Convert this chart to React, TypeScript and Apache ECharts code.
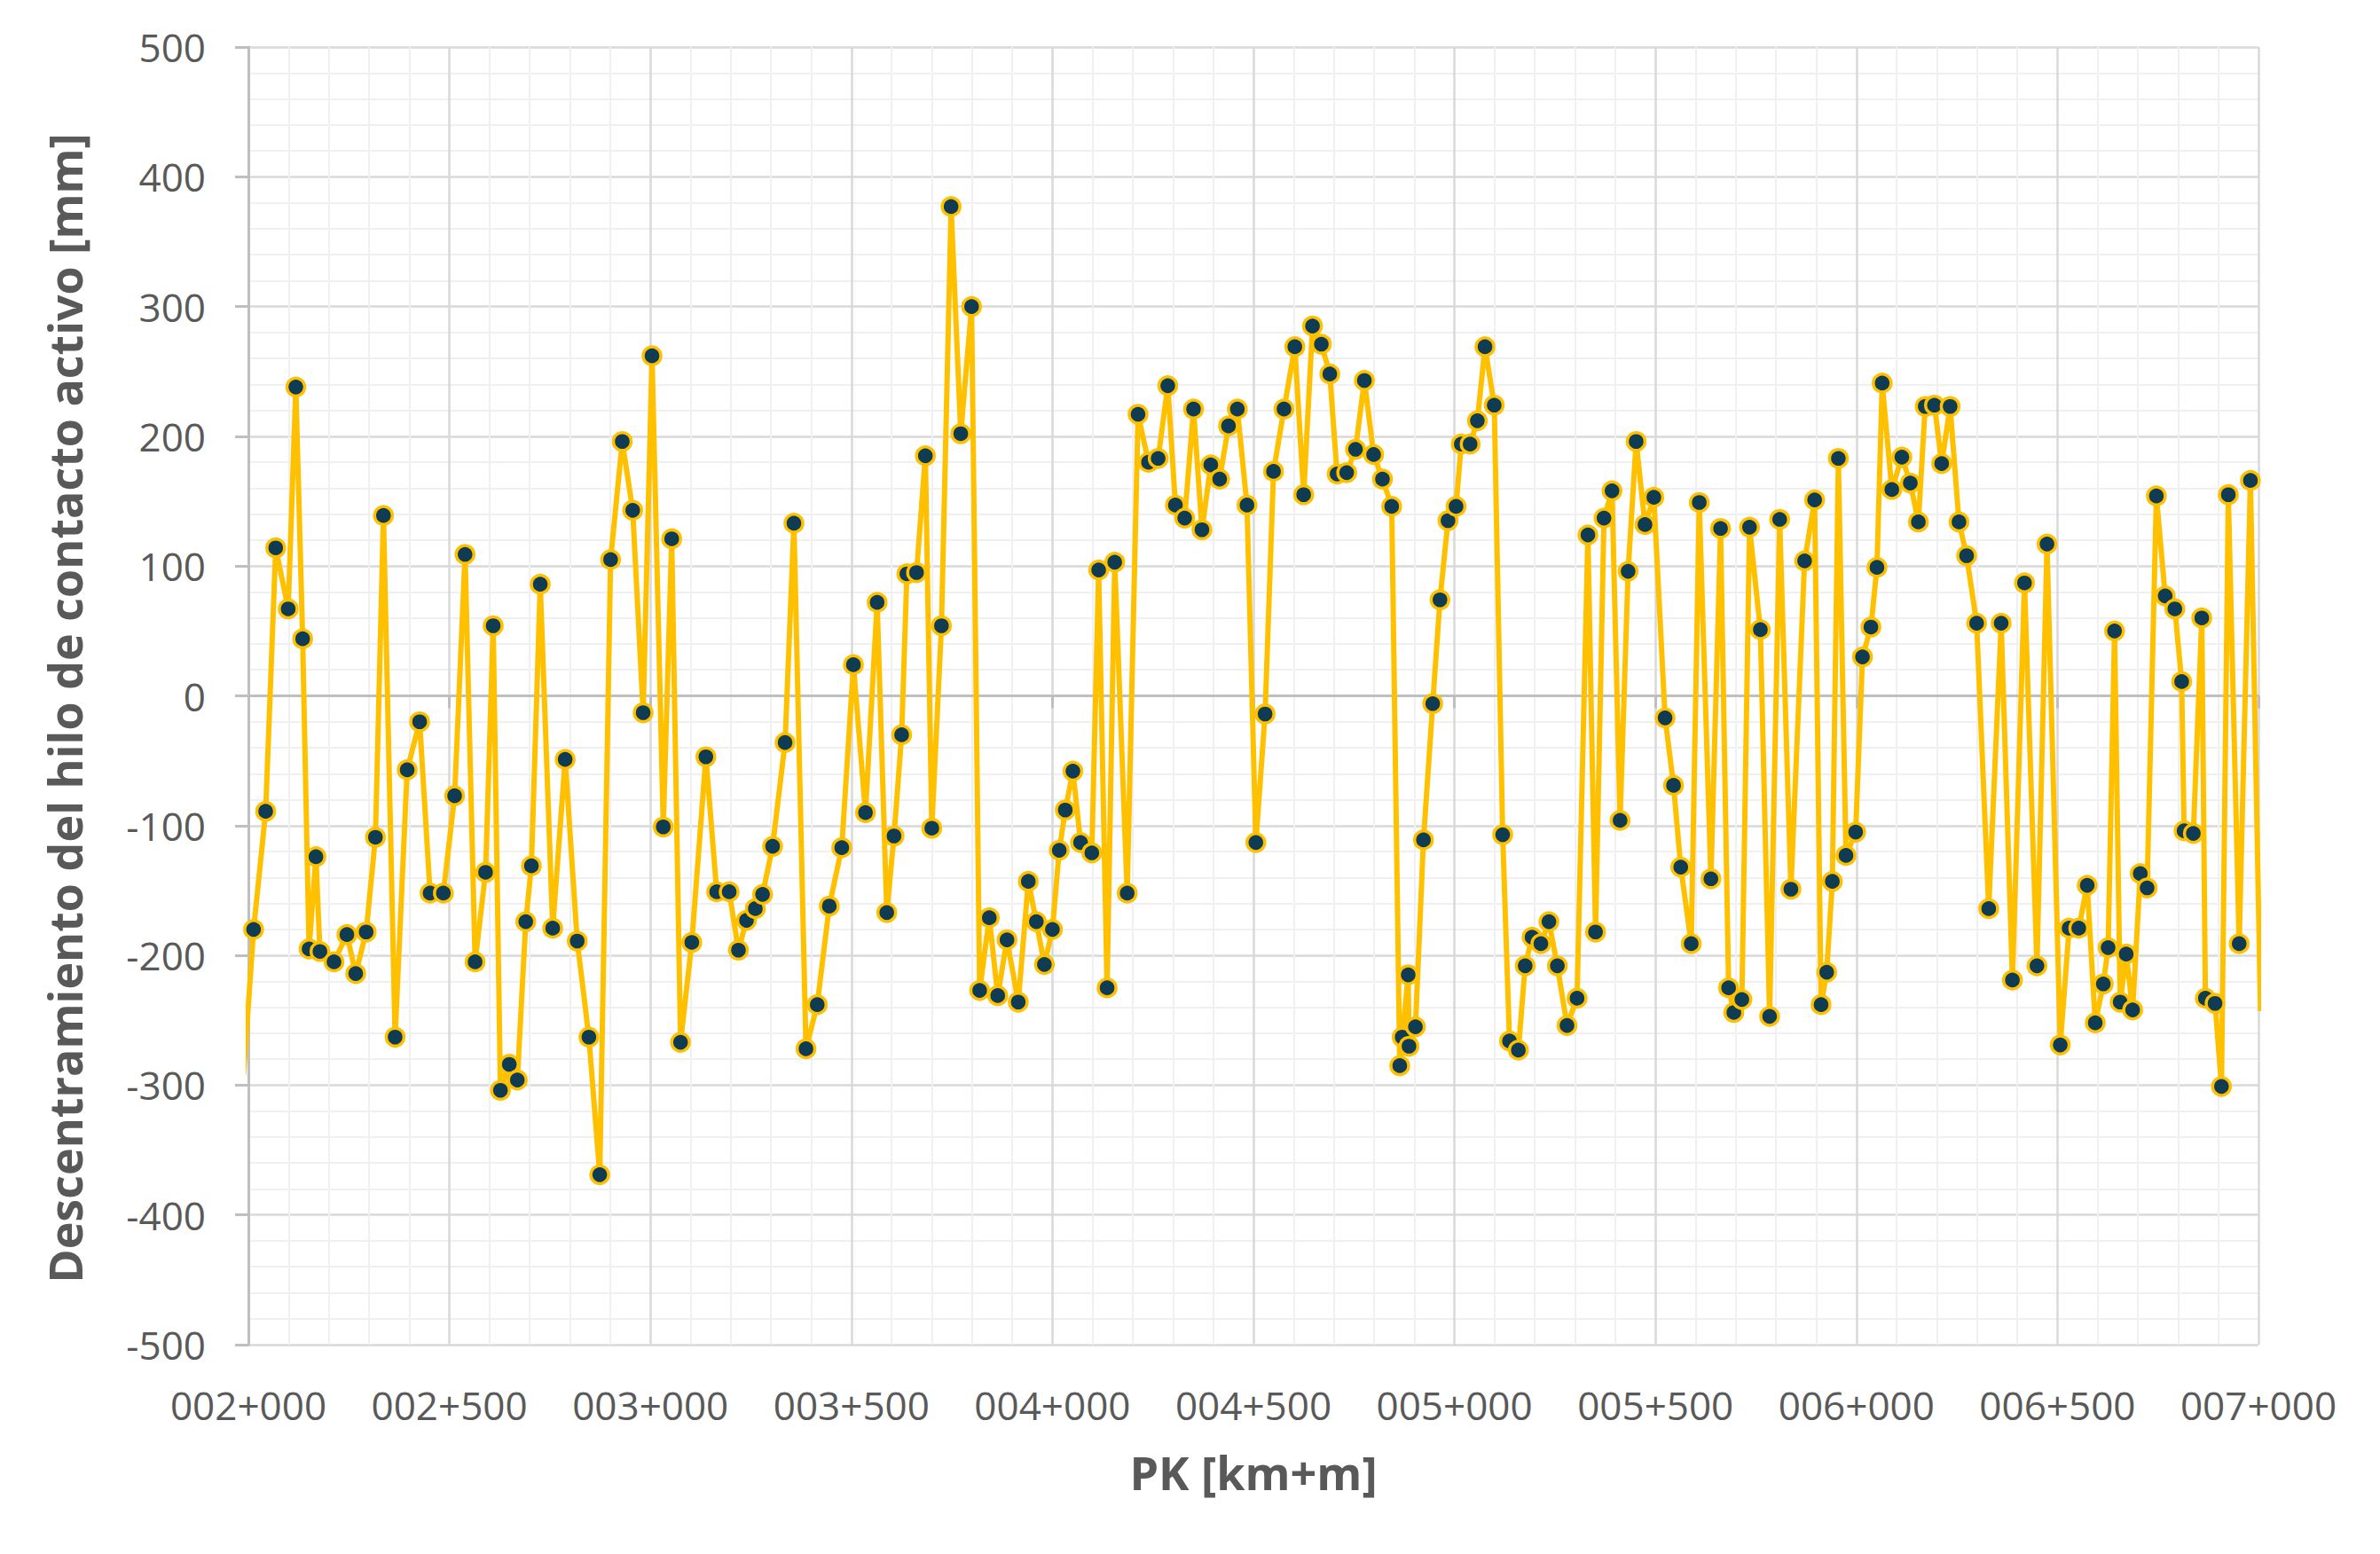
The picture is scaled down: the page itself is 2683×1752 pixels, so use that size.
import React, { useEffect, useRef } from "react";
import * as echarts from "echarts";

// PK positions in metres (first and last points lie just outside the visible range)
const PK: number[] = [
  1988, 2013, 2043, 2068, 2099, 2118, 2135, 2151, 2168, 2178, 2213, 2245, 2267, 2293, 2316, 2336, 2365, 2395, 2426, 2452,
  2485, 2513, 2539, 2564, 2590, 2609, 2627, 2649, 2669, 2690, 2704, 2726, 2757, 2788, 2818, 2847, 2874, 2901, 2930, 2956,
  2982, 3004, 3032, 3053, 3075, 3103, 3138, 3165, 3196, 3219, 3239, 3261, 3279, 3304, 3335, 3357, 3387, 3415, 3445, 3476,
  3505, 3535, 3564, 3588, 3606, 3625, 3638, 3662, 3684, 3700, 3724, 3748, 3772, 3799, 3819, 3843, 3864, 3887, 3915, 3940,
  3960, 3980, 4000, 4017, 4032, 4051, 4070, 4098, 4115, 4136, 4155, 4186, 4213, 4239, 4263, 4287, 4306, 4329, 4351, 4372,
  4394, 4416, 4438, 4460, 4484, 4506, 4529, 4550, 4576, 4603, 4625, 4647, 4669, 4690, 4708, 4732, 4754, 4776, 4799, 4821,
  4844, 4864, 4870, 4885, 4887, 4903, 4923, 4946, 4964, 4984, 5004, 5017, 5039, 5057, 5076, 5099, 5120, 5137, 5159, 5176,
  5193, 5215, 5235, 5256, 5280, 5305, 5332, 5351, 5372, 5392, 5412, 5432, 5452, 5474, 5496, 5524, 5545, 5563, 5589, 5609,
  5638, 5662, 5682, 5695, 5715, 5734, 5761, 5784, 5809, 5837, 5871, 5896, 5912, 5926, 5940, 5955, 5974, 5998, 6015, 6036,
  6051, 6064, 6088, 6113, 6134, 6154, 6171, 6194, 6212, 6233, 6255, 6274, 6299, 6329, 6360, 6388, 6418, 6449, 6474, 6507,
  6529, 6553, 6574, 6594, 6614, 6626, 6642, 6656, 6671, 6687, 6706, 6723, 6746, 6768, 6792, 6809, 6815, 6838, 6859, 6868,
  6892, 6908, 6925, 6952, 6980, 7005,
];

// Descentramiento [mm]
const DESC: number[] = [
  -292, -180, -89, 114, 67, 238, 44, -195, -124, -197, -205, -184, -214, -182, -109, 139, -263, -57, -20, -152,
  -152, -77, 109, -205, -136, 54, -304, -284, -296, -174, -131, 86, -179, -49, -189, -263, -369, 105, 196, 143,
  -13, 262, -101, 121, -267, -190, -47, -151, -151, -196, -173, -164, -153, -116, -36, 133, -272, -238, -162, -117,
  24, -90, 72, -167, -108, -30, 94, 95, 185, -102, 54, 377, 202, 300, -227, -171, -231, -188, -236, -143,
  -174, -207, -180, -119, -88, -58, -113, -121, 97, -225, 103, -152, 217, 180, 183, 239, 147, 137, 221, 128,
  178, 167, 208, 221, 147, -113, -14, 173, 221, 269, 155, 285, 271, 248, 171, 172, 190, 243, 186, 167,
  146, -285, -263, -215, -270, -255, -111, -6, 74, 135, 146, 194, 194, 212, 269, 224, -107, -266, -273, -208,
  -186, -191, -174, -208, -254, -233, 124, -182, 137, 158, -96, 96, 196, 132, 153, -17, -69, -132, -191, 149,
  -141, 129, -225, -244, -234, 130, 51, -247, 136, -149, 104, 151, -238, -213, -143, 183, -123, -105, 30, 53,
  99, 241, 159, 184, 164, 134, 223, 224, 179, 223, 134, 108, 56, -164, 56, -219, 87, -208, 117, -269,
  -179, -179, -146, -252, -222, -194, 50, -236, -199, -242, -137, -148, 154, 77, 67, 11, -104, -106, 60, -233,
  -237, -301, 155, -191, 166, -243,
];

const X_MIN = 2000;
const X_MAX = 7000;
const Y_MIN = -500;
const Y_MAX = 500;

const X_TITLE = "PK [km+m]";
const Y_TITLE = "Descentramiento del hilo de contacto activo [mm]";

const FONT = "'Open Sans', 'Noto Sans', 'DejaVu Sans', sans-serif";
const TEXT_COLOR = "#595959";

function formatPK(v: number): string {
  const km = Math.floor(v / 1000);
  const m = Math.round(v - km * 1000);
  return `${String(km).padStart(3, "0")}+${String(m).padStart(3, "0")}`;
}

export default function App() {
  const ref = useRef<HTMLDivElement>(null);

  useEffect(() => {
    document.body.style.margin = "0";
    if (!ref.current) return;
    const chart = echarts.init(ref.current, undefined, { renderer: "svg" });
    const data = PK.map((p, i) => [p, DESC[i]]);

    const option: any = {
      animation: false,
      backgroundColor: "#ffffff",
      textStyle: { fontFamily: FONT },
      grid: {
        left: 280,
        top: 53,
        width: 2266,
        height: 1463,
        containLabel: false,
        outerBoundsMode: "none",
      },
      xAxis: [
        {
          // visible labels, grid lines, title
          type: "value",
          min: X_MIN,
          max: X_MAX,
          interval: 500,
          position: "bottom",
          axisLine: { show: false, onZero: false },
          axisTick: { show: false },
          axisLabel: {
            show: true,
            formatter: (v: number) => formatPK(v),
            fontSize: 44,
            fontFamily: FONT,
            color: TEXT_COLOR,
            margin: 46,
            showMinLabel: true,
            showMaxLabel: true,
          },
          splitLine: { show: true, lineStyle: { color: "#d9d9d9", width: 2.5 } },
          minorTick: { show: false, splitNumber: 5 },
          minorSplitLine: { show: true, lineStyle: { color: "#f0f0f0", width: 2 } },
          name: X_TITLE,
          nameLocation: "middle",
          nameGap: 117,
          nameTextStyle: {
            fontSize: 52,
            fontWeight: "bold",
            fontFamily: FONT,
            color: TEXT_COLOR,
          },
        },
        {
          // horizontal axis line crossing at 0, with outside ticks
          type: "value",
          min: X_MIN,
          max: X_MAX,
          interval: 500,
          position: "bottom",
          axisLine: {
            show: true,
            onZero: true,
            onZeroAxisIndex: 0,
            lineStyle: { color: "#bfbfbf", width: 3 },
          },
          axisTick: {
            show: true,
            inside: false,
            length: 14,
            lineStyle: { color: "#bfbfbf", width: 3 },
          },
          axisLabel: { show: false },
          splitLine: { show: false },
        },
      ],
      yAxis: {
        type: "value",
        min: Y_MIN,
        max: Y_MAX,
        interval: 100,
        axisLine: { show: true, onZero: false, lineStyle: { color: "#bfbfbf", width: 3 } },
        axisTick: { show: true, inside: false, length: 15, lineStyle: { color: "#bfbfbf", width: 3 } },
        axisLabel: {
          fontSize: 44,
          fontFamily: FONT,
          color: TEXT_COLOR,
          margin: 48,
        },
        splitLine: { show: true, lineStyle: { color: "#d9d9d9", width: 2.5 } },
        minorTick: { show: false, splitNumber: 5 },
        minorSplitLine: { show: true, lineStyle: { color: "#f0f0f0", width: 2 } },
        name: Y_TITLE,
        nameLocation: "middle",
        nameGap: 182,
        nameTextStyle: {
          fontSize: 52,
          fontWeight: "bold",
          fontFamily: FONT,
          color: TEXT_COLOR,
          padding: [0, 28, 0, 0],
        },
      },
      series: [
        {
          type: "line",
          xAxisIndex: 0,
          yAxisIndex: 0,
          data,
          clip: true,
          symbol: "circle",
          symbolSize: 20,
          showSymbol: true,
          lineStyle: { color: "#FFC000", width: 6 },
          itemStyle: { color: "#0F3B53", borderColor: "#FFC000", borderWidth: 3.5 },
          emphasis: { disabled: true },
          z: 3,
        },
      ],
    };

    chart.setOption(option);
    return () => chart.dispose();
  }, []);

  return <div ref={ref} style={{ width: 2683, height: 1752 }} />;
}
